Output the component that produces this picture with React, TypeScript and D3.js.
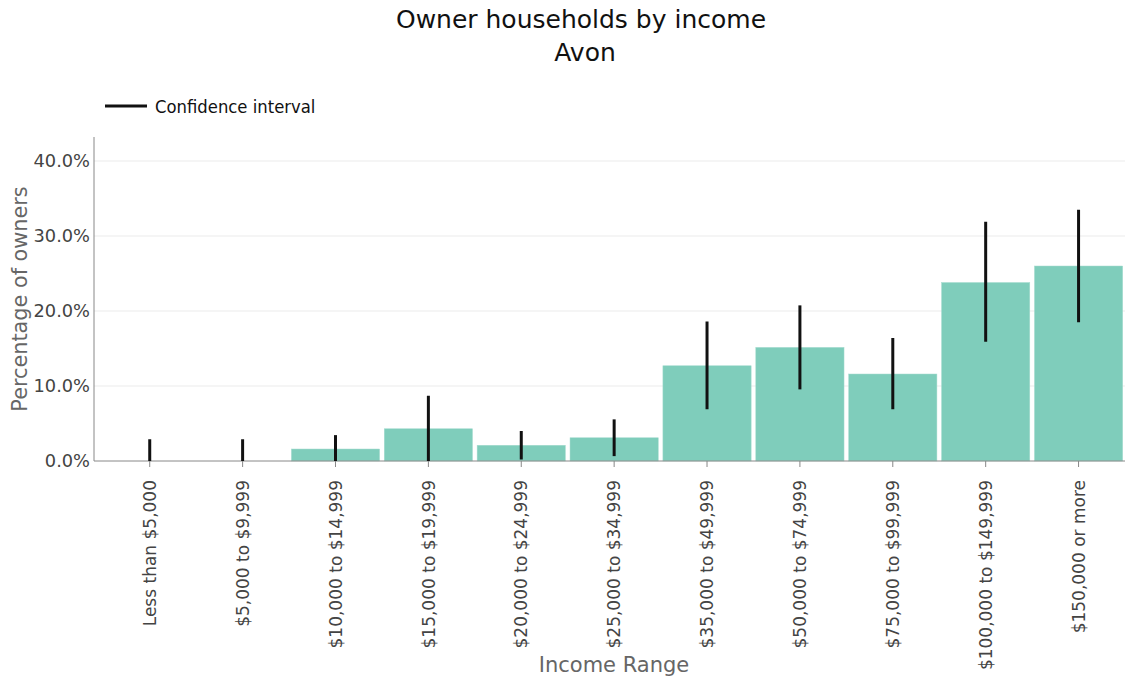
import React from "react";
import * as d3 from "d3";

const categories = [
  "Less than $5,000",
  "$5,000 to $9,999",
  "$10,000 to $14,999",
  "$15,000 to $19,999",
  "$20,000 to $24,999",
  "$25,000 to $34,999",
  "$35,000 to $49,999",
  "$50,000 to $74,999",
  "$75,000 to $99,999",
  "$100,000 to $149,999",
  "$150,000 or more",
];

// percentage of owners
const values = [0, 0, 1.6, 4.3, 2.1, 3.1, 12.7, 15.15, 11.6, 23.8, 26.0];
// confidence interval bounds
const ciLow = [0, 0, 0, 0, 0.2, 0.65, 6.9, 9.55, 6.9, 15.9, 18.5];
const ciHigh = [2.9, 2.9, 3.45, 8.7, 4.0, 5.55, 18.6, 20.75, 16.4, 31.9, 33.5];

const yTicks = [0, 10, 20, 30, 40];

const W = 1126;
const H = 681;
const plotLeft = 94;
const plotRight = 1125;
const plotTop = 137;
const plotBottom = 461;

const FONT = "'DejaVu Sans', Verdana, sans-serif";
const FONT_COND = "'DejaVu Sans Condensed', 'DejaVu Sans', sans-serif";

export default function App() {
  const n = categories.length;
  const step = (plotRight - plotLeft) / (n + 0.1);
  const x = d3
    .scaleBand<string>()
    .domain(categories)
    .range([plotLeft + 0.1 * step, plotRight])
    .paddingInner(0.05)
    .paddingOuter(0.025);
  const y = d3.scaleLinear().domain([0, 43.2]).range([plotBottom, plotTop]);
  const fmt = (v: number) => d3.format(".1f")(v) + "%";
  const cx = (c: string) => (x(c) as number) + x.bandwidth() / 2;

  return (
    <svg
      width={W}
      height={H}
      style={{ position: "absolute", left: 0, top: 0, background: "#fff" }}
    >
      {/* title */}
      <text
        x={581}
        y={28}
        textAnchor="middle"
        fontFamily={FONT}
        fontSize={25}
        fill="#111"
      >
        <tspan x={581}>Owner households by income</tspan>
        <tspan x={585} dy={33}>
          Avon
        </tspan>
      </text>

      {/* legend */}
      <line x1={105} x2={147} y1={106} y2={106} stroke="#111" strokeWidth={3} />
      <text
        x={155}
        y={113}
        fontFamily={FONT_COND}
        fontStretch="condensed"
        fontSize={18.3}
        fill="#111"
      >
        Confidence interval
      </text>

      {/* grid */}
      {yTicks
        .filter((t) => t > 0)
        .map((t) => (
          <line
            key={"g" + t}
            x1={plotLeft}
            x2={plotRight}
            y1={y(t)}
            y2={y(t)}
            stroke="#ebebeb"
            strokeWidth={1}
          />
        ))}

      {/* y tick labels */}
      {yTicks.map((t) => (
        <text
          key={"yt" + t}
          x={90}
          y={y(t)}
          dy="0.36em"
          textAnchor="end"
          fontFamily={FONT}
          fontSize={17.8}
          fill="#444"
        >
          {fmt(t)}
        </text>
      ))}

      {/* bars */}
      {categories.map((c, i) => (
        <rect
          key={"b" + i}
          x={x(c)}
          y={y(values[i])}
          width={x.bandwidth()}
          height={y(0) - y(values[i])}
          fill="#7fcdbb"
          stroke="#a6dccf"
          strokeWidth={0.5}
        />
      ))}

      {/* axes */}
      <line
        x1={plotLeft}
        x2={plotLeft}
        y1={plotTop}
        y2={plotBottom}
        stroke="#888"
        strokeWidth={1}
      />
      <line
        x1={plotLeft}
        x2={plotRight}
        y1={plotBottom}
        y2={plotBottom}
        stroke="#888"
        strokeWidth={1}
      />
      {categories.map((c, i) => (
        <line
          key={"tk" + i}
          x1={cx(c)}
          x2={cx(c)}
          y1={plotBottom}
          y2={plotBottom + 6}
          stroke="#888"
          strokeWidth={1}
        />
      ))}

      {/* error bars */}
      {categories.map((c, i) => (
        <line
          key={"e" + i}
          x1={cx(c)}
          x2={cx(c)}
          y1={y(ciLow[i])}
          y2={y(ciHigh[i])}
          stroke="#111"
          strokeWidth={3}
        />
      ))}

      {/* x tick labels */}
      {categories.map((c, i) => (
        <text
          key={"xl" + i}
          transform={`translate(${cx(c)},480) rotate(-90)`}
          dy="0.36em"
          textAnchor="end"
          fontFamily={FONT}
          fontSize={17}
          fill="#444"
        >
          {c}
        </text>
      ))}

      {/* axis titles */}
      <text
        transform={`translate(27,${(plotTop + plotBottom) / 2}) rotate(-90)`}
        textAnchor="middle"
        fontFamily={FONT}
        fontSize={20.8}
        fill="#666"
      >
        Percentage of owners
      </text>
      <text
        x={614}
        y={672}
        textAnchor="middle"
        fontFamily={FONT}
        fontSize={21}
        fill="#666"
      >
        Income Range
      </text>
    </svg>
  );
}
